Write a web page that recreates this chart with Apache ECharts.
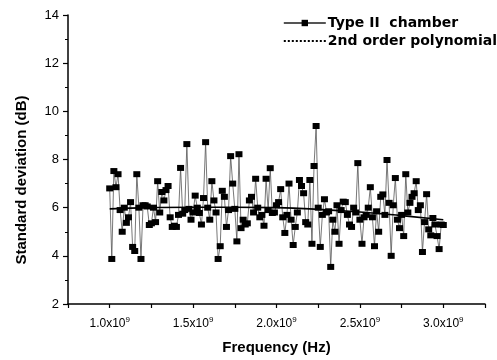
<!DOCTYPE html>
<html><head><meta charset="utf-8">
<script src="https://cdn.jsdelivr.net/npm/echarts@6/dist/echarts.min.js"></script>
<style>html,body{margin:0;padding:0;background:#fff}#c{width:497px;height:360px}</style>
</head><body><div id="c"></div>
<script>
// Measured standard deviation (dB), Type II chamber, sweep 1.0–3.0 GHz
const stdDev = [6.8,3.87,7.52,6.85,7.39,5.9,5.0,6.0,5.37,5.6,6.23,4.37,4.2,7.39,6.0,3.87,6.1,6.1,6.05,5.28,
5.35,6.0,5.4,7.1,5.8,6.65,6.3,6.73,6.9,5.6,5.2,5.25,5.2,5.7,7.65,5.75,5.9,8.64,5.95,5.5,
5.8,6.5,6.0,5.78,5.3,6.4,8.72,6.0,5.5,7.1,6.3,5.8,3.87,4.4,6.7,6.45,5.2,5.9,8.14,7.0,
5.95,4.6,8.22,5.15,5.5,5.3,5.35,6.3,6.45,5.8,7.2,6.0,5.6,5.7,5.25,7.2,5.9,7.64,5.78,5.8,
6.1,6.23,6.77,5.6,4.95,5.7,7.0,5.5,4.45,5.2,5.8,7.15,6.9,6.6,5.4,5.3,7.15,4.5,7.73,9.39,
6.0,4.37,5.7,6.35,5.8,5.85,3.54,5.5,5.0,6.1,4.5,5.9,6.25,6.23,5.7,5.3,5.2,6.0,5.8,7.85,
5.5,4.5,5.6,5.7,6.0,6.85,5.6,4.4,5.85,5.0,6.45,6.55,5.7,7.98,6.2,4.0,6.1,7.23,5.5,5.15,
5.7,4.82,7.39,5.8,6.2,6.45,6.6,7.1,5.9,6.1,4.16,5.4,6.56,5.1,4.85,5.57,5.3,4.82,4.28,5.3,5.28];
const fStart = 1.0e9, fStop = 3.0e9;
// 2nd order polynomial fit, read at these frequencies
const fitFreq = [1.0e9,1.25e9,1.5e9,1.75e9,2.0e9,2.25e9,2.5e9,2.75e9,3.0e9];
const fitVals = [5.95,6.0,6.02,6.02,6.0,5.93,5.82,5.67,5.5];
const xTicks = [1.0,1.5,2.0,2.5,3.0];
const yTicks = [2,4,6,8,10,12,14];
const seriesNames = ['Type II  chamber','2nd order polynomial'];

const n = stdDev.length;
const measData = stdDev.map((v,i)=>[fStart + i*(fStop-fStart)/(n-1), v]);
const fitData = fitFreq.map((f,i)=>[f, fitVals[i]]);
const FONT = 'Liberation Sans, Arial, sans-serif';
const WFONT = 'DejaVu Sans, Verdana, sans-serif';

const chart = echarts.init(document.getElementById('c'));
chart.setOption({
  animation:false,
  backgroundColor:'#fff',
  grid:{left:68,right:12,top:15,bottom:56},
  legend:{
    right:0, top:16, orient:'vertical', itemGap:4, itemWidth:42, itemHeight:8, padding:0,
    textStyle:{fontFamily:WFONT,fontWeight:'bold',fontSize:14,color:'#000',padding:[0,0,0,-3],lineHeight:14},
    data:[
      {name:seriesNames[0]},
      {name:seriesNames[1], itemStyle:{opacity:0}, lineStyle:{type:'dotted',width:2,color:'#000'}}
    ]
  },
  xAxis:{
    type:'value', min:0.75e9, max:3.25e9, interval:0.25e9,
    name:'Frequency (Hz)', nameLocation:'middle', nameGap:36,
    nameTextStyle:{fontFamily:FONT,fontWeight:'bold',fontSize:15,color:'#000'},
    axisLine:{lineStyle:{color:'#000',width:1.5}},
    axisTick:{inside:false,length:4,lineStyle:{color:'#000',width:1.2}},
    splitLine:{show:false},
    axisLabel:{
      margin:12, color:'#000', fontFamily:FONT, fontSize:12,
      formatter:function(v){
        const g=Math.round(v/1e7)/100;
        if(!xTicks.some(t=>Math.abs(t-g)<1e-6)) return '';
        return g.toFixed(1)+'x10{s|9}';
      },
      rich:{s:{fontSize:8,verticalAlign:'top',padding:[0,0,8,0],fontFamily:FONT,color:'#000'}}
    }
  },
  yAxis:{
    type:'value', min:2, max:14, interval:2,
    axisLine:{show:true,lineStyle:{color:'#000',width:1.5}},
    axisTick:{show:true,length:5,lineStyle:{color:'#000',width:1.2}},
    minorTick:{show:true,splitNumber:2,length:3,lineStyle:{color:'#000'}},
    splitLine:{show:false},
    axisLabel:{margin:9,color:'#000',fontFamily:FONT,fontSize:13,
      formatter:function(v){return yTicks.indexOf(v)>=0?String(v):'';}}
  },
  graphic:[{
    type:'text', left:14, top:'center', rotation:Math.PI/2,
    style:{text:'Standard deviation (dB)', font:'bold 15px '+FONT, fill:'#000'},
    x:14, y:-5
  }],
  series:[
    {name:seriesNames[0], type:'line', data:measData, symbol:'rect', symbolSize:[7,6],
     itemStyle:{color:'#000'}, lineStyle:{color:'#555',width:0.8}, z:3},
    {name:seriesNames[1], type:'line', data:fitData, smooth:true, symbol:'none',
     lineStyle:{color:'#000',width:1.6}, z:4}
  ]
});
</script></body></html>
